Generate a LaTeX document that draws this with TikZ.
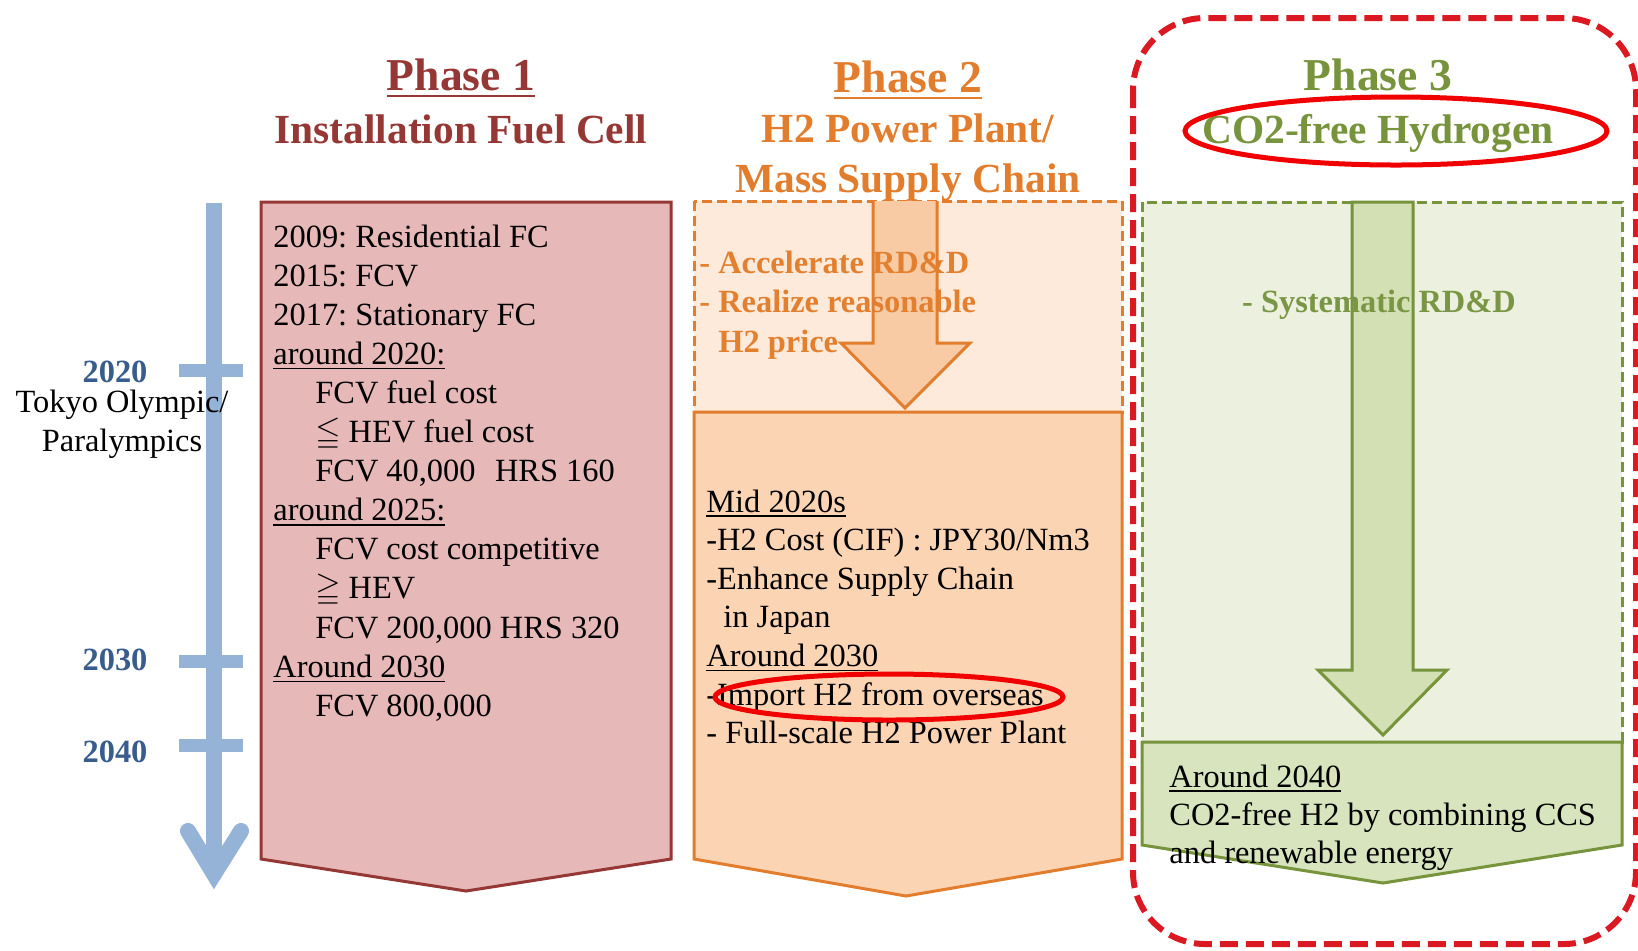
\documentclass[tikz,border=0pt]{standalone}
\usepackage{fontspec}
\usepackage{amssymb}
\setmainfont{Liberation Serif}
\frenchspacing

\definecolor{lineblue}{RGB}{149,179,215}
\definecolor{yearblue}{RGB}{56,93,140}
\definecolor{redA}{RGB}{149,55,53}
\definecolor{redFill}{RGB}{230,185,184}
\definecolor{orgLine}{RGB}{226,125,45}
\definecolor{orgText}{RGB}{226,128,48}
\definecolor{orgLight}{RGB}{253,234,218}
\definecolor{orgFill}{RGB}{251,212,180}
\definecolor{orgArrow}{RGB}{249,203,165}
\definecolor{grnLine}{RGB}{119,147,60}
\definecolor{grnText}{RGB}{122,150,68}
\definecolor{grnLight}{RGB}{235,241,222}
\definecolor{grnFill}{RGB}{215,228,189}
\definecolor{grnArrow}{RGB}{210,224,180}
\definecolor{frameRed}{RGB}{218,25,35}
\definecolor{markRed}{RGB}{240,0,0}

% text with a rule of given thickness (#1) placed #2 below the baseline
\newcommand{\undertext}[3]{\mbox{\setbox0\hbox{#3}\rlap{\copy0}\rule[-#2]{\wd0}{#1}}}

\begin{document}
\begin{tikzpicture}[x=0.5pt,y=-0.5pt,
  phasetitle/.style={anchor=base,inner sep=0pt,font=\fontsize{22.8}{27}\selectfont\bfseries},
  phasesub/.style={anchor=base,inner sep=0pt,font=\fontsize{20.7}{25}\selectfont\bfseries},
  bodyline/.style={anchor=base west,inner sep=0pt,font=\fontsize{16.2}{19}\selectfont},
  boldline/.style={anchor=base west,inner sep=0pt,font=\fontsize{16.2}{19}\selectfont\bfseries},
  yearlabel/.style={anchor=base,inner sep=0pt,font=\fontsize{16.2}{19}\selectfont\bfseries,text=yearblue},
  eventlabel/.style={anchor=base,inner sep=0pt,font=\fontsize{16.2}{19}\selectfont},
  yeartick/.style={lineblue,line width=6.5pt},
  solidbox/.style={line width=1.5pt,line join=miter},
  dashbox/.style={line width=1.5pt,dash pattern=on 5pt off 2.5pt},
  blockarrow/.style={line width=1.5pt,line join=miter},
  ring/.style={markRed,line width=2.5pt},
]
\useasboundingbox (0,0) rectangle (1638,950);
\fill[white] (0,0) rectangle (1638,950);

% ---- phase headings ----
\node[phasetitle,text=redA] (t1a) at (461,90) {\undertext{1pt}{3.6pt}{Phase 1}};
\node[phasesub,text=redA]   (t1b) at (461,143) {Installation Fuel Cell};
\node[phasetitle,text=orgLine] (t2a) at (908,92) {\undertext{1pt}{3.6pt}{Phase 2}};
\node[phasesub,text=orgLine]   (t2b) at (908,142) {H2 Power Plant/};
\node[phasesub,text=orgLine]   (t2c) at (908,192) {Mass Supply Chain};
\node[phasetitle,text=grnLine] (t3a) at (1378,90) {Phase 3};
\node[phasesub,text=grnLine]   (t3b) at (1378,143) {CO2-free Hydrogen};

% ---- timeline ----
\coordinate (tltop) at (214,203);
\coordinate (tltip) at (214,874);
\coordinate (tlleft) at (188,831);
\coordinate (tlright) at (241,831);
\draw[lineblue,line width=8pt] (tltop) -- (tltip);
\draw[lineblue,line width=8pt,line join=miter,line cap=round] (tlleft) -- (tltip) -- (tlright);
\draw[yeartick] (179,370) -- (243,370);
\draw[yeartick] (179,661) -- (243,661);
\draw[yeartick] (179,745) -- (243,745);
\node[yearlabel] (y2020) at (115,382) {2020};
\node[eventlabel] (ev1) at (122,412) {Tokyo Olympic/};
\node[eventlabel] (ev2) at (122,451) {Paralympics};
\node[yearlabel] (y2030) at (115,670) {2030};
\node[yearlabel] (y2040) at (115,762) {2040};

% ---- phase 3 frame ----
\draw[frameRed,line width=3pt,dash pattern=on 9pt off 4pt,rounded corners=36pt]
  (1133,18) rectangle (1636,944);

% ---- phase 1 ----
\filldraw[solidbox,fill=redFill,draw=redA]
  (261,202) -- (671,202) -- (671,859) -- (466,891) -- (261,859) -- cycle;

% ---- phase 2 ----
\filldraw[dashbox,fill=orgLight,draw=orgLine] (694,201) rectangle (1122,412);
\filldraw[solidbox,fill=orgFill,draw=orgLine]
  (694,412) -- (1122,412) -- (1122,859) -- (906,896) -- (694,859) -- cycle;
\fill[orgArrow] (873,201) -- (937,201) -- (937,343) -- (970,343) -- (905,408)
  -- (841,343) -- (873,343) -- cycle;

% ---- phase 3 ----
\filldraw[dashbox,fill=grnLight,draw=grnLine] (1142,202) rectangle (1622,742);
\filldraw[solidbox,fill=grnFill,draw=grnLine]
  (1142,742) -- (1622,742) -- (1622,845) -- (1383,883) -- (1142,845) -- cycle;
\fill[grnArrow] (1352,202) -- (1413,202) -- (1413,670) -- (1447,670) -- (1383,735)
  -- (1318,670) -- (1352,670) -- cycle;

% ---- phase 1 text ----
\foreach \txt [count=\i] in {
  {2009: Residential FC},
  {2015: FCV},
  {2017: Stationary FC},
  {\undertext{0.7pt}{2.4pt}{around 2020:}},
  {\hspace*{21pt}FCV fuel cost},
  {\hspace*{21pt}$\leqq$ HEV fuel cost},
  {\hspace*{21pt}FCV 40,000\hspace{0.6em}HRS 160},
  {\undertext{0.7pt}{2.4pt}{around 2025:}},
  {\hspace*{21pt}FCV cost competitive},
  {\hspace*{21pt}$\geqq$ HEV},
  {\hspace*{21pt}FCV 200,000 HRS 320},
  {\undertext{0.7pt}{2.4pt}{Around 2030}},
  {\hspace*{21pt}FCV 800,000}}
  \node[bodyline] (pa\i) at (273,{247+39.1*(\i-1)}) {\txt};

% ---- phase 2 text ----
\node[boldline,text=orgText] (pb1) at (699,273) {- Accelerate RD\&D};
\node[boldline,text=orgText] (pb2) at (699,312.5) {- Realize reasonable};
\node[boldline,text=orgText] (pb3) at (718,352) {H2 price};

\foreach \txt [count=\i] in {
  {\undertext{0.7pt}{2.4pt}{Mid 2020s}},
  {-H2 Cost (CIF) : JPY30/Nm3},
  {-Enhance Supply Chain},
  {\hspace*{8.5pt}in Japan},
  {\undertext{0.7pt}{2.4pt}{Around 2030}},
  {-Import H2 from overseas},
  {- Full-scale H2 Power Plant}}
  \node[bodyline] (pc\i) at (706,{512+38.6*(\i-1)}) {\txt};

% ---- phase 3 text ----
\node[boldline,text=grnText,anchor=base] (pd1) at (1379,312) {- Systematic RD\&D};
\node[bodyline] (pe1) at (1169,787) {\undertext{0.7pt}{2.4pt}{Around 2040}};
\node[bodyline] (pe2) at (1169,825) {CO2-free H2 by combining CCS};
\node[bodyline] (pe3) at (1169,863) {and renewable energy};

% ---- arrow outlines ----
\draw[blockarrow,orgLine] (873,201) -- (873,343) -- (841,343) -- (905,408)
  -- (970,343) -- (937,343) -- (937,201);
\draw[blockarrow,grnLine] (1352,202) -- (1413,202) -- (1413,670) -- (1447,670) -- (1383,735)
  -- (1318,670) -- (1352,670) -- cycle;

% ---- highlight rings ----
\draw[ring] (1396,131) ellipse [x radius=105.5pt, y radius=17pt];
\draw[ring] (889,697) ellipse [x radius=87pt, y radius=11.5pt];
\end{tikzpicture}
\end{document}
